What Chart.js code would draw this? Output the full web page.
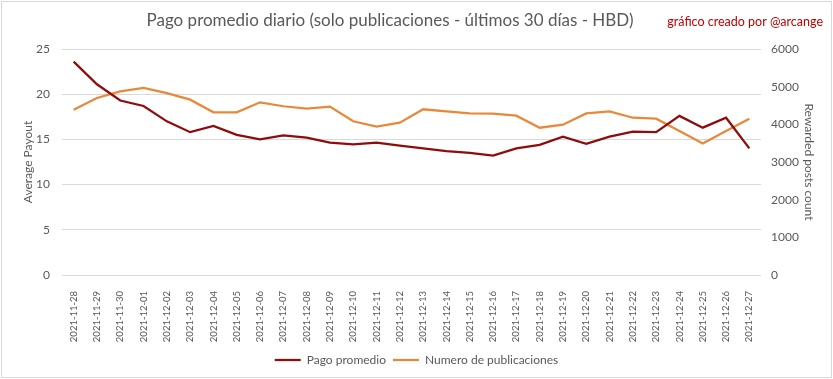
<!DOCTYPE html>
<html>
<head>
<meta charset="utf-8">
<script src="https://cdn.jsdelivr.net/npm/chart.js@4/dist/chart.umd.min.js"></script>
<style>
  html, body { margin: 0; padding: 0; background: #fff; }
  #wrap { width: 833px; height: 379px; position: relative; }
</style>
</head>
<body>
<div id="wrap"><canvas id="chart" width="833" height="379"></canvas></div>
<script>
const dates = [
  '2021-11-28', '2021-11-29', '2021-11-30', '2021-12-01', '2021-12-02', '2021-12-03',
  '2021-12-04', '2021-12-05', '2021-12-06', '2021-12-07', '2021-12-08', '2021-12-09',
  '2021-12-10', '2021-12-11', '2021-12-12', '2021-12-13', '2021-12-14', '2021-12-15',
  '2021-12-16', '2021-12-17', '2021-12-18', '2021-12-19', '2021-12-20', '2021-12-21',
  '2021-12-22', '2021-12-23', '2021-12-24', '2021-12-25', '2021-12-26', '2021-12-27'
];
// Pago promedio (HBD), left axis
const avgPayout = [
  23.6, 21.1, 19.3, 18.7, 17.0, 15.8, 16.5, 15.5, 15.0, 15.45,
  15.2, 14.65, 14.45, 14.65, 14.3, 14.0, 13.7, 13.5, 13.2, 14.0,
  14.4, 15.3, 14.5, 15.3, 15.85, 15.8, 17.6, 16.3, 17.4, 14.0
];
// Numero de publicaciones, right axis
const postCount = [
  4390, 4700, 4875, 4970, 4830, 4655, 4320, 4320, 4585, 4480,
  4415, 4470, 4080, 3940, 4045, 4400, 4345, 4290, 4285, 4230,
  3910, 3990, 4290, 4345, 4175, 4150, 3825, 3490, 3825, 4150
];
const leftTicks = [0, 25, 5];      // min, max, step
const rightTicks = [0, 6000, 1000];

const FONT = 'Lato, "Open Sans", sans-serif';
const GREY = '#595959';
const RED = '#8e0c0c';
const ORANGE = '#e8883a';

// white background, frame, title and credit line
const decor = {
  id: 'decor',
  beforeDraw(chart) {
    const ctx = chart.ctx;
    ctx.save();
    ctx.fillStyle = '#fff';
    ctx.fillRect(0, 0, chart.width, chart.height);
    ctx.restore();
  },
  afterDraw(chart) {
    const ctx = chart.ctx;
    ctx.save();
    ctx.strokeStyle = '#d9d9d9';
    ctx.lineWidth = 1;
    ctx.strokeRect(1.5, 1.5, chart.width - 3, chart.height - 3);

    ctx.textBaseline = 'middle';
    ctx.fillStyle = GREY;
    ctx.font = '17px ' + FONT;
    ctx.textAlign = 'center';
    ctx.fillText('Pago promedio diario (solo publicaciones - últimos 30 días - HBD)', 390, 21);

    ctx.fillStyle = '#c00000';
    ctx.font = '12.5px ' + FONT;
    ctx.textAlign = 'right';
    ctx.fillText('gráfico creado por @arcange', 823, 22);
    ctx.restore();
  }
};

new Chart(document.getElementById('chart'), {
  type: 'line',
  data: {
    labels: dates,
    datasets: [
      {
        label: 'Pago promedio',
        data: avgPayout,
        yAxisID: 'y',
        borderColor: RED,
        backgroundColor: RED,
        borderWidth: 2.25,
        pointRadius: 0,
        tension: 0
      },
      {
        label: 'Numero de publicaciones',
        data: postCount,
        yAxisID: 'y1',
        borderColor: ORANGE,
        backgroundColor: ORANGE,
        borderWidth: 2.25,
        pointRadius: 0,
        tension: 0
      }
    ]
  },
  options: {
    responsive: false,
    animation: false,
    layout: { padding: { top: 49, left: 0, right: 0, bottom: 3 } },
    plugins: {
      title: { display: false },
      tooltip: { enabled: false },
      legend: {
        position: 'bottom',
        labels: {
          usePointStyle: true,
          pointStyle: 'line',
          pointStyleWidth: 26,
          color: GREY,
          font: { family: FONT, size: 12 },
          padding: 7
        }
      }
    },
    scales: {
      x: {
        offset: true,
        grid: { display: false },
        border: { display: false },
        ticks: {
          color: GREY,
          font: { family: FONT, size: 9.5 },
          minRotation: 90,
          maxRotation: 90,
          autoSkip: false,
          padding: 8
        },
        afterFit(scale) { scale.height = 72; }
      },
      y: {
        position: 'left',
        min: leftTicks[0],
        max: leftTicks[1],
        ticks: {
          stepSize: leftTicks[2],
          color: GREY,
          font: { family: FONT, size: 12 },
          padding: 12
        },
        grid: { color: '#d9d9d9', drawTicks: false },
        border: { display: false },
        title: {
          display: true,
          text: 'Average Payout',
          color: GREY,
          font: { family: FONT, size: 12 },
          padding: { top: 21, bottom: 0 }
        },
        afterFit(scale) { scale.width = 62; }
      },
      y1: {
        position: 'right',
        min: rightTicks[0],
        max: rightTicks[1],
        ticks: {
          stepSize: rightTicks[2],
          format: { useGrouping: false },
          color: GREY,
          font: { family: FONT, size: 12 },
          padding: 10
        },
        grid: { display: false, drawTicks: false },
        border: { display: false },
        title: {
          display: true,
          text: 'Rewarded posts count',
          color: GREY,
          font: { family: FONT, size: 12 },
          padding: { top: 17, bottom: 0 }
        },
        afterFit(scale) { scale.width = 72; }
      }
    }
  },
  plugins: [decor]
});
</script>
</body>
</html>
